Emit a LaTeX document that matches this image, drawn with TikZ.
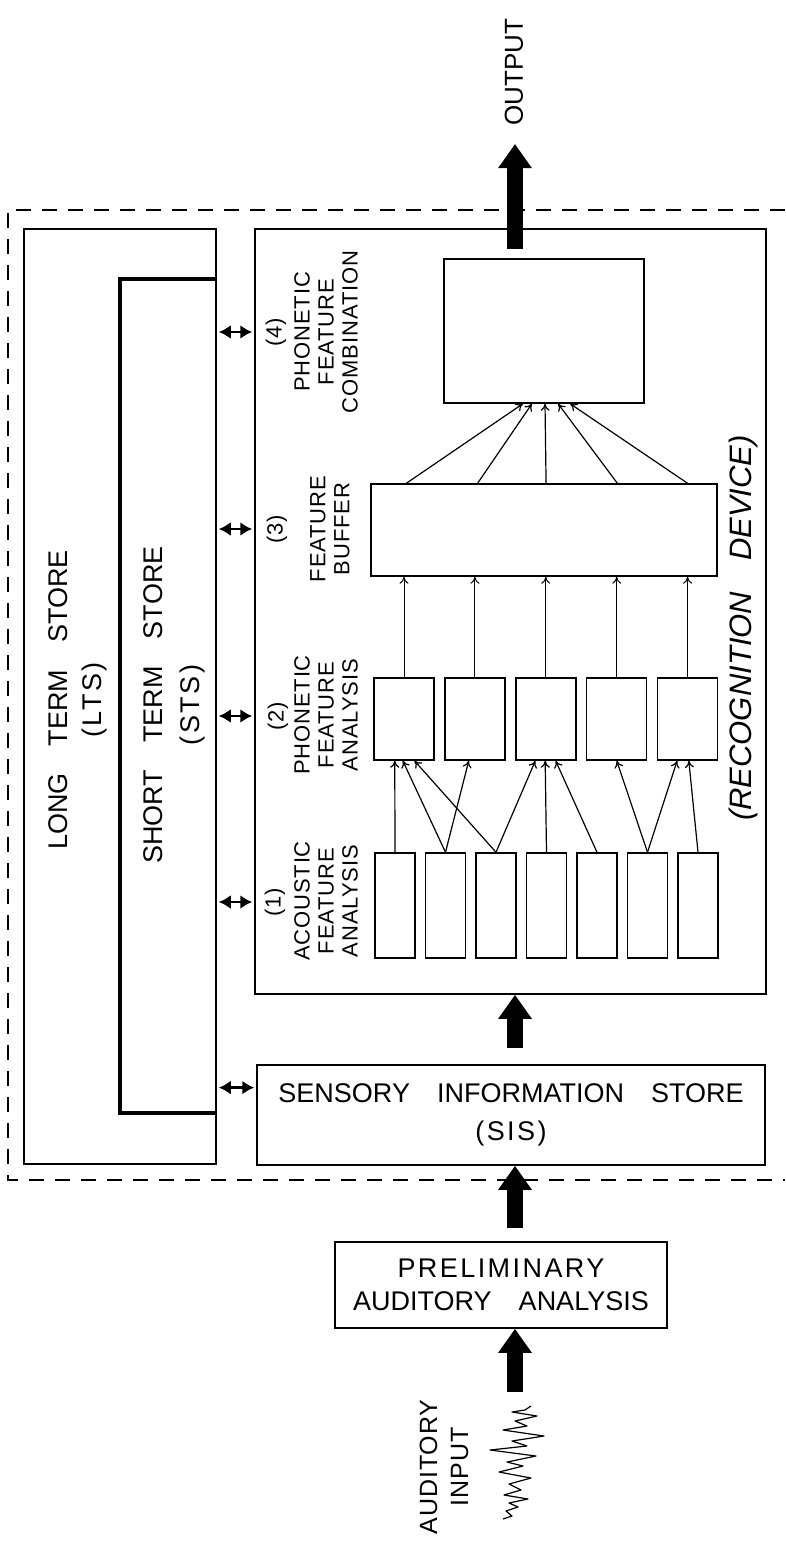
\documentclass[tikz,border=0pt]{standalone}
\usepackage{fontspec}
\setmainfont{Liberation Sans}
\newfontfamily\storefont[WordSpace=3.6]{Liberation Sans}
\newfontfamily\spacedfont[WordSpace=3.6,LetterSpace=9]{Liberation Sans}
\newfontfamily\labelfont[LetterSpace=4]{Liberation Sans}
\usetikzlibrary{arrows.meta,calc}

\begin{document}
\begin{tikzpicture}[x=1pt, y=-1pt,
    box/.style={draw, line width=1.5pt, inner sep=0pt},
    arr/.style={line width=1.2pt, arrows={-To[length=7pt,width=9pt]}},
    dbl/.style={line width=2.6pt, arrows={Latex[length=12pt,width=14pt]-Latex[length=12pt,width=14pt]}, shorten <=2pt, shorten >=2pt},
    bigarrow/.style={line width=16pt, arrows={-Triangle[length=24pt,width=32pt]}},
    frame/.style={line width=1.3pt, dash pattern=on 15pt off 11pt},
    vlabel/.style={rotate=90, align=center, inner sep=0pt, font=\labelfont\fontsize{22}{24}\selectfont},
    bigtext/.style={align=center, font=\storefont\fontsize{27}{#1}\selectfont}
  ]
  \useasboundingbox (0,0) rectangle (785,1543);

  % outer dashed frame
  \draw[frame] (785,210) -- (8,210) -- (8,1180) -- (785,1180);

  % long and short term stores
  \node[box, minimum width=192pt, minimum height=935pt] (lts) at (120,696.5) {};
  \draw[line width=4.5pt] (lts.east |- 0,279) -- (120,279) |- (lts.east |- 0,1113);
  \node[bigtext=34, rotate=90, inner sep=0pt] (ltstext) at (78,700) {LONG TERM STORE\\{\spacedfont (LTS)}};
  \node[bigtext=37, rotate=90, inner sep=0pt] (ststext) at (174,705) {SHORT TERM STORE\\{\spacedfont (STS)}};

  % recognition device
  \node[box, minimum width=511pt, minimum height=765pt] (rec) at (510.5,611.5) {};
  \node[rotate=90, inner sep=0pt, font=\storefont\itshape\fontsize{31}{36}\selectfont] (rectext) at (743,628) {(RECOGNITION DEVICE)};

  \foreach \i in {1,...,7}
    \node[box, minimum width=40pt, minimum height=105pt] (a\i) at ({395+50.5*(\i-1)},905.5) {};
  \foreach \i in {1,...,5}
    \node[box, minimum width=60pt, minimum height=82pt] (p\i) at ({404+70.9*(\i-1)},719) {};
  \node[box, minimum width=346pt, minimum height=92pt] (fb) at (544,530) {};
  \node[box, minimum width=200pt, minimum height=144pt] (comb) at (544,331) {};

  % stage labels
  \node[vlabel] (num4) at (276,332) {(4)};
  \node[vlabel] (lab4) at (326,332) {PHONETIC\\FEATURE\\COMBINATION};
  \node[vlabel] (num3) at (277,529) {(3)};
  \node[vlabel] (lab3) at (330,529) {FEATURE\\BUFFER};
  \node[vlabel] (num2) at (278,716) {(2)};
  \node[vlabel] (lab2) at (326,715) {PHONETIC\\FEATURE\\ANALYSIS};
  \node[vlabel] (num1) at (275,902) {(1)};
  \node[vlabel] (lab1) at (326,901) {ACOUSTIC\\FEATURE\\ANALYSIS};

  % input side
  \node[box, minimum width=508pt, minimum height=100pt, bigtext=38] (sis) at (511,1115) {SENSORY INFORMATION STORE\\{\spacedfont (SIS)}};
  \node[box, minimum width=332pt, minimum height=86pt, bigtext=33] (paa) at (501,1285) {{\spacedfont PRELIMINARY}\\AUDITORY ANALYSIS};
  \node[rotate=90, align=center, inner sep=0pt, font=\labelfont\fontsize{25}{31}\selectfont] (inlabel) at (444,1467) {AUDITORY\\INPUT};
  \node[rotate=90, inner sep=0pt, font=\storefont\fontsize{26}{30}\selectfont] (out) at (514,72) {OUTPUT};

  % sound wave
  \draw[line width=1.2pt, line join=round] (503,1519) -- (512,1516) -- (506,1511) -- (518,1507) -- (509,1503)
    -- (528,1499) -- (504,1495) -- (514,1492) -- (521,1490) -- (509,1484) -- (531,1478) -- (499,1472)
    -- (523,1466) -- (507,1462) -- (536,1456) -- (490,1450) -- (527,1446) -- (512,1441) -- (544,1436)
    -- (503,1430) -- (527,1426) -- (515,1421) -- (537,1416) -- (512,1412) -- (525,1410) -- (531,1406);

  % feature connections
  \foreach \s/\t/\f in {1/1/0.35, 2/1/0.48, 2/2/0.40, 3/1/0.67, 3/3/0.33, 4/3/0.49, 5/3/0.66, 6/4/0.50, 6/5/0.33, 7/5/0.52}
    \draw[arr] (a\s.north) -- ($(p\t.south west)!\f!(p\t.south east)$);
  \foreach \i in {1,...,5}
    \draw[arr, line width=1pt] (p\i.north) -- (p\i.north |- fb.south);
  \foreach \f/\g in {0.104/0.395, 0.309/0.44, 0.506/0.505, 0.711/0.57, 0.913/0.63}
    \draw[arr] ($(fb.north west)!\f!(fb.north east)$) -- ($(comb.south west)!\g!(comb.south east)$);

  % memory links
  \foreach \n in {1,...,4}
    \draw[dbl] (num\n -| lts.east) -- (num\n -| rec.west);
  \coordinate (sislink) at ($(sis.north west)!0.23!(sis.south west)$);
  \draw[dbl] (sislink -| lts.east) -- (sislink);

  % main flow
  \coordinate (inp) at (515,1392);
  \coordinate (outtip) at (515,144);
  \draw[bigarrow] (inp) -- (inp |- paa.south);
  \draw[bigarrow] ($(paa.north -| inp)+(0,-13)$) -- (inp |- sis.south);
  \draw[bigarrow] ($(sis.north -| inp)+(0,-16)$) -- (inp |- rec.south);
  \draw[bigarrow] ($(comb.north -| inp)+(0,-9)$) -- (outtip);
\end{tikzpicture}
\end{document}
